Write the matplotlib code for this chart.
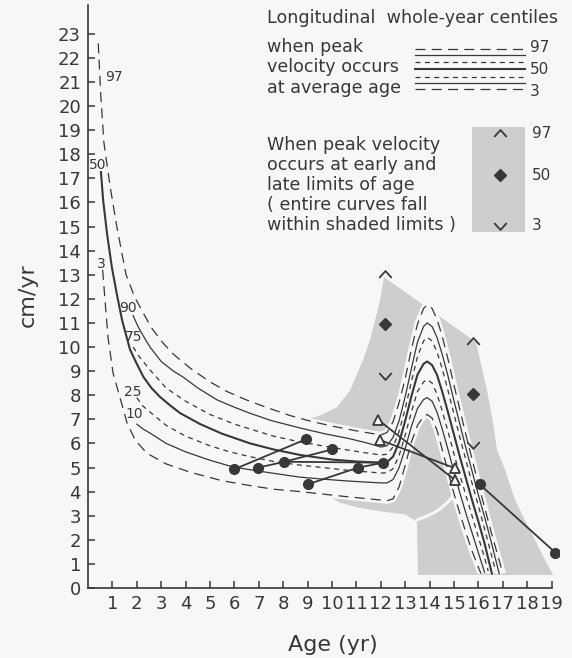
import matplotlib
matplotlib.use("Agg")
import matplotlib.pyplot as plt
from matplotlib.path import Path
from matplotlib.patches import Rectangle

plt.rcParams['font.family'] = ['DejaVu Sans']

ink = '#383838'
paper = '#f7f7f5'
shade = '#cecece'

# whole-year velocity centiles (age yr, cm/yr)
age_97 = [0.42, 0.52, 0.65, 0.9, 1.18, 1.56, 1.9, 2.27, 2.6, 3.07, 3.5, 4.18, 5.0, 5.7, 6.5,
          7.3, 8.3, 9.2, 10.0, 11.0, 11.7, 12.0, 12.25, 12.5, 12.75, 13.0, 13.25, 13.5, 13.75,
          13.9, 14.1, 14.3, 14.5, 14.75, 15.0, 15.25, 15.5, 15.75, 16.0, 16.25, 16.5, 16.75, 17.0]
vel_97 = [22.6, 20.5, 18.5, 16.7, 15.0, 13.0, 12.1, 11.4, 10.8, 10.17, 9.7, 9.13, 8.55, 8.15, 7.8,
          7.5, 7.15, 6.9, 6.72, 6.52, 6.4, 6.35, 6.45, 6.9, 7.7, 8.7, 9.9, 10.95, 11.6,
          11.75, 11.6, 11.15, 10.5, 9.5, 8.4, 7.35, 6.3, 5.3, 4.3, 3.35, 2.4, 1.5, 0.6]

age_90 = [1.85, 2.05, 2.3, 2.54, 3.0, 3.5, 3.9, 4.5, 5.3, 6.0, 6.64, 7.5, 8.69, 9.7, 10.7, 11.5,
          12.0, 12.25, 12.5, 12.75, 13.0, 13.25, 13.5, 13.75, 13.9, 14.1, 14.3, 14.5, 14.75, 15.0,
          15.25, 15.5, 15.75, 16.0, 16.25, 16.5, 16.85]
vel_90 = [11.3, 10.85, 10.4, 10.0, 9.4, 9.0, 8.75, 8.3, 7.8, 7.5, 7.25, 6.95, 6.64, 6.4, 6.2, 6.0,
          5.85, 5.9, 6.25, 6.95, 7.95, 9.1, 10.2, 10.85, 11.0, 10.85, 10.4, 9.75, 8.8, 7.75,
          6.75, 5.75, 4.8, 3.85, 2.95, 2.0, 0.6]

age_75 = [1.85, 2.1, 2.54, 3.2, 4.0, 5.0, 6.0, 6.64, 7.6, 8.69, 9.6, 10.5, 11.3, 12.0, 12.25,
          12.5, 12.75, 13.0, 13.25, 13.5, 13.75, 13.9, 14.1, 14.3, 14.5, 14.75, 15.0, 15.25,
          15.5, 15.75, 16.0, 16.25, 16.5, 16.7]
vel_75 = [10.0, 9.6, 9.05, 8.3, 7.75, 7.2, 6.8, 6.6, 6.3, 6.06, 5.9, 5.75, 5.62, 5.52, 5.55,
          5.85, 6.5, 7.45, 8.55, 9.6, 10.25, 10.4, 10.25, 9.8, 9.15, 8.2, 7.2, 6.2,
          5.25, 4.3, 3.4, 2.45, 1.5, 0.7]

age_50 = [0.53, 0.62, 0.78, 0.98, 1.18, 1.4, 1.72, 2.0, 2.27, 2.6, 2.95, 3.4, 3.77, 4.6, 5.5,
          6.64, 7.6, 8.69, 10.0, 11.0, 12.0, 12.25, 12.5, 12.75, 13.0, 13.25, 13.5, 13.75, 13.9,
          14.1, 14.3, 14.5, 14.75, 15.0, 15.25, 15.5, 15.75, 16.0, 16.25, 16.55]
vel_50 = [17.26, 16.1, 14.7, 13.3, 12.2, 11.1, 9.9, 9.3, 8.76, 8.3, 7.93, 7.55, 7.26, 6.8, 6.4,
          6.0, 5.75, 5.52, 5.33, 5.25, 5.2, 5.22, 5.45, 6.05, 6.95, 7.95, 8.85, 9.3, 9.4,
          9.25, 8.85, 8.2, 7.3, 6.35, 5.4, 4.5, 3.6, 2.75, 1.85, 0.6]

age_25 = [2.0, 2.25, 2.54, 3.2, 4.0, 5.0, 5.8, 6.64, 7.6, 8.69, 9.6, 10.5, 11.3, 12.0, 12.25,
          12.5, 12.75, 13.0, 13.25, 13.5, 13.75, 13.9, 14.1, 14.3, 14.5, 14.75, 15.0, 15.25,
          15.5, 15.75, 16.0, 16.25, 16.4]
vel_25 = [7.9, 7.55, 7.3, 6.75, 6.3, 5.9, 5.65, 5.45, 5.25, 5.1, 5.0, 4.9, 4.83, 4.77, 4.78,
          4.95, 5.5, 6.35, 7.3, 8.15, 8.55, 8.65, 8.5, 8.05, 7.4, 6.5, 5.55, 4.65,
          3.8, 2.95, 2.1, 1.25, 0.7]

age_10 = [2.0, 2.25, 2.54, 3.2, 4.0, 5.0, 5.95, 7.0, 8.0, 8.69, 9.6, 10.5, 11.3, 12.0, 12.25,
          12.5, 12.75, 13.0, 13.25, 13.5, 13.75, 13.9, 14.1, 14.3, 14.5, 14.75, 15.0, 15.25,
          15.5, 15.75, 16.0, 16.25]
vel_10 = [6.8, 6.6, 6.43, 6.0, 5.65, 5.3, 5.02, 4.85, 4.7, 4.6, 4.52, 4.45, 4.4, 4.36, 4.36,
          4.5, 5.0, 5.8, 6.7, 7.45, 7.82, 7.9, 7.75, 7.3, 6.65, 5.75, 4.8, 3.9,
          3.05, 2.25, 1.45, 0.65]

age_3 = [0.6, 0.7, 0.82, 1.03, 1.31, 1.6, 1.93, 2.4, 3.2, 4.2, 5.5, 6.64, 7.6, 8.69, 9.6, 10.5,
         11.3, 12.0, 12.25, 12.5, 12.75, 13.0, 13.25, 13.5, 13.75, 13.9, 14.1, 14.3, 14.5, 14.75,
         15.0, 15.25, 15.5, 15.75, 16.0, 16.1]
vel_3 = [13.2, 11.9, 10.4, 8.9, 7.9, 6.85, 6.15, 5.6, 5.15, 4.8, 4.45, 4.25, 4.1, 4.0, 3.9, 3.8,
         3.72, 3.65, 3.62, 3.7, 4.2, 5.1, 6.05, 6.75, 7.12, 7.2, 7.05, 6.55, 5.8, 4.85,
         3.9, 3.05, 2.25, 1.5, 0.85, 0.6]

# outline of shaded area (early / late peak limits)
shade_age = [12.13, 15.9, 16.35, 16.6, 16.76, 17.09, 17.5, 18.11, 18.73, 19.06, 13.52, 13.48,
             13.0, 12.0, 11.0, 10.3, 9.8, 9.3, 8.8, 9.5, 10.2, 10.74, 11.27, 11.56, 11.76, 11.97]
shade_vel = [12.9, 10.2, 8.2, 6.85, 5.73, 4.9, 3.65, 2.4, 1.16, 0.54, 0.54, 2.75,
             3.05, 3.18, 3.35, 3.55, 3.85, 5.5, 6.97, 7.15, 7.5, 8.2, 9.46, 10.3, 11.1, 11.95]
gap_age = [13.48, 13.8, 14.14, 14.45, 14.71, 14.95, 15.12]
gap_vel = [2.82, 2.95, 3.1, 3.3, 3.53, 3.8, 4.07]

# centiles at early and late limits of age
limit_age = [12.18, 15.79]
limit_97 = [13.05, 10.26]
limit_50 = [10.95, 8.05]
limit_3 = [8.8, 5.93]

# plotted patient values
dot_age = [6.0, 6.95, 8.05, 8.95, 10.0, 9.0, 11.05, 12.1, 16.05, 19.15]
dot_vel = [4.93, 4.99, 5.24, 6.18, 5.75, 4.3, 4.99, 5.2, 4.3, 1.47]
dot_links = [(0, 3), (1, 2), (2, 4), (2, 7), (5, 6), (6, 7), (8, 9)]
tri_age = [11.9, 11.97, 15.04, 15.04]
tri_vel = [6.97, 6.14, 4.97, 4.48]
tri_links = [(0, 3), (1, 2)]

centiles = ['97', '90', '75', '50', '25', '10', '3']
curves = {'97': (age_97, vel_97), '90': (age_90, vel_90), '75': (age_75, vel_75),
          '50': (age_50, vel_50), '25': (age_25, vel_25), '10': (age_10, vel_10),
          '3': (age_3, vel_3)}
long_dash = (0, (8, 5))
short_dash = (0, (4, 3.5))
style = {'97': (long_dash, 0.9), '90': ('-', 0.9), '75': (short_dash, 0.9), '50': ('-', 1.5),
         '25': (short_dash, 0.9), '10': ('-', 0.9), '3': (long_dash, 0.9)}
label_pos = {'97': (1.07, 21.2), '50': (0.39, 17.55), '3': (0.53, 13.45), '90': (1.64, 11.6),
             '75': (1.86, 10.4), '25': (1.84, 8.15), '10': (1.89, 7.2)}

caret_up = Path([(-1, -0.55), (0, 0.55), (1, -0.55)], [Path.MOVETO, Path.LINETO, Path.LINETO])
caret_dn = Path([(-1, 0.55), (0, -0.55), (1, 0.55)], [Path.MOVETO, Path.LINETO, Path.LINETO])

W, H = 572, 658
fig = plt.figure(figsize=(W / 100, H / 100), dpi=100, facecolor=paper)
ax = fig.add_axes([88 / W, 1 - 588 / H, (559 - 88) / W, (588 - 4.8) / H])
ax.set_facecolor(paper)
ax.set_xlim(0, 19.3)
ax.set_ylim(0, 24.2)

ax.fill(shade_age, shade_vel, color=shade, lw=0, zorder=1)
ax.plot(gap_age, gap_vel, color=paper, lw=2.2, zorder=1.5, solid_capstyle='round')
# white band between outer centiles
ax.fill(age_97 + age_3[::-1], vel_97 + vel_3[::-1], color=paper, lw=0, zorder=2)

for c in centiles:
    a, v = curves[c]
    ls, lw = style[c]
    ax.plot(a, v, color=paper, lw=4.5, zorder=3, solid_capstyle='butt')
    ax.plot(a, v, color=ink, lw=lw, ls=ls, zorder=4)
    ax.text(*label_pos[c], c, fontsize=10, color=ink, ha='center', va='center', zorder=6)

ax.plot(limit_age, limit_97, ls='none', marker=caret_up, ms=9, mfc='none', mec=ink, mew=1.3, zorder=5)
ax.plot(limit_age, limit_50, ls='none', marker='D', ms=6.5, color=ink, zorder=5)
ax.plot(limit_age, limit_3, ls='none', marker=caret_dn, ms=9, mfc='none', mec=ink, mew=1.3, zorder=5)

for i, j in dot_links:
    ax.plot([dot_age[i], dot_age[j]], [dot_vel[i], dot_vel[j]], color=ink, lw=1.3, zorder=6)
for i, j in tri_links:
    ax.plot([tri_age[i], tri_age[j]], [tri_vel[i], tri_vel[j]], color=ink, lw=1.3, zorder=6)
ax.plot(dot_age, dot_vel, ls='none', marker='o', ms=7, color=ink, zorder=7)
ax.plot(tri_age, tri_vel, ls='none', marker='^', ms=7, mfc=paper, mec=ink, mew=1.3, zorder=7)

for s in ['top', 'right']:
    ax.spines[s].set_visible(False)
for s in ['left', 'bottom']:
    ax.spines[s].set_color(ink)
    ax.spines[s].set_linewidth(1.2)
ax.spines['bottom'].set_bounds(0, 19)
ax.set_xticks(range(1, 20))
ax.set_yticks(range(0, 24))
ax.tick_params(direction='in', length=5, width=1.1, color=ink, labelcolor=ink, labelsize=13)
ax.tick_params(axis='x', pad=5)
ax.tick_params(axis='y', pad=5)

fig.text(28 / W, 1 - 295 / H, 'cm/yr', rotation=90, fontsize=16, color=ink, ha='center', va='center')
fig.text(333 / W, 1 - 645 / H, 'Age (yr)', fontsize=16, color=ink, ha='center', va='center')

# legend drawn in figure pixel space
ov = fig.add_axes([0, 0, 1, 1], facecolor='none')
ov.set_xlim(0, W)
ov.set_ylim(H, 0)
ov.axis('off')
fs = 12.6
ov.text(267, 18, 'Longitudinal  whole-year centiles', fontsize=fs, color=ink, va='center')
for k, t in enumerate(['when peak', 'velocity occurs', 'at average age']):
    ov.text(267, 47 + 20.5 * k, t, fontsize=fs, color=ink, va='center')
leg_y = [49.3, 55, 62.3, 69.3, 76.7, 83.3, 89.3]
for c, yy in zip(centiles, leg_y):
    ls, lw = style[c]
    ov.plot([415, 525], [yy, yy], color=ink, lw=lw, ls=ls)
for t, yy in [('97', 48), ('50', 70), ('3', 91)]:
    ov.text(530, yy, t, fontsize=11, color=ink, va='center')

for k, t in enumerate(['When peak velocity', 'occurs at early and', 'late limits of age',
                       '( entire curves fall', 'within shaded limits )']):
    ov.text(267, 145 + 20 * k, t, fontsize=fs, color=ink, va='center')
ov.add_patch(Rectangle((472, 127), 53, 105, color=shade, lw=0))
ov.plot([500], [133], ls='none', marker=caret_up, ms=9, mfc='none', mec=ink, mew=1.3)
ov.plot([500], [175], ls='none', marker='D', ms=6.5, color=ink)
ov.plot([500], [226], ls='none', marker=caret_dn, ms=9, mfc='none', mec=ink, mew=1.3)
for t, yy in [('97', 133), ('50', 175), ('3', 226)]:
    ov.text(532, yy, t, fontsize=11, color=ink, va='center')

fig.savefig('out.png', dpi=100, facecolor=paper)
